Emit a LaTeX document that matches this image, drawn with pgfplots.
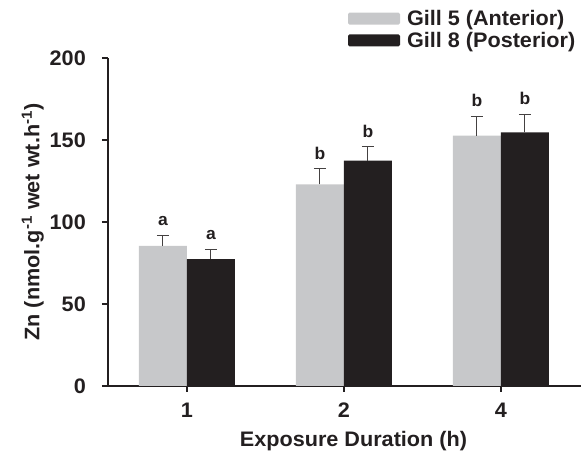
\documentclass[border=0pt]{standalone}
\usepackage{pgfplots}
\pgfplotsset{compat=1.18}
\usepackage{pgfplotstable}
\usepackage{fontspec}
\setmainfont{Liberation Sans}[FakeStretch=1.03]
\definecolor{lgray}{RGB}{199,200,202}
\definecolor{dblack}{RGB}{35,31,32}
\pgfplotsset{boxleg/.style={legend image code/.code={\fill[##1,rounded corners=1.5pt] (0pt,-6pt) rectangle (52pt,6pt);}}}
\pgfplotstableread{
x g5 g5e g8 g8e
0 85.5 6.5 77.4 6.0
1 123.0 9.5 137.4 8.5
2 152.6 12.0 154.7 11.0
}\datatab
\begin{document}
\begin{tikzpicture}
\begin{axis}[name=ax,
  scale only axis, width=473pt, height=328pt,
  xmin=-0.503, xmax=2.51, ymin=0, ymax=200,
  axis x line=bottom, axis y line=left,
  axis line style={-, line width=2.4pt, color=dblack},
  xtick={0,1,2}, xticklabels={1,2,4}, ytick={0,50,100,150,200},
  tick align=outside, major tick length=6pt,
  tick style={line width=2pt, color=dblack},
  /pgf/number format/assume math mode=true,
  tick label style={font=\bfseries\fontsize{21}{25}\selectfont, text=dblack},
  yticklabel style={anchor=east, inner sep=0pt, xshift=-16pt},
  xticklabel style={anchor=north, inner sep=0pt, yshift=-11pt},
  label style={font=\bfseries\fontsize{21}{25}\selectfont, text=dblack},
  xlabel={Exposure Duration (h)},
  ylabel={Zn (nmol.g\textsuperscript{-1} wet wt.h\textsuperscript{-1})},
  ylabel style={at={([xshift=-64pt]rel axis cs:0,0.5)}, anchor=south, inner sep=0pt},
  xlabel style={at={([xshift=9pt,yshift=-61pt]rel axis cs:0.5,0)}, anchor=base, inner sep=0pt},
  ybar=0pt, bar width=48pt,
  legend style={draw=none, fill=none, at={(0.507,1)}, anchor=north west, yshift=48pt,
    inner sep=0pt, row sep=5pt, font=\bfseries\fontsize{21}{25}\selectfont,
    nodes={inner sep=0pt, text=dblack}, /tikz/every odd column/.append style={column sep=7pt}},
  legend cell align=left,
  clip=false,
]
\addplot[boxleg, fill=lgray, draw=none,
  error bars/.cd, y dir=plus, y explicit,
  error bar style={line width=1pt, color=dblack!85},
  error mark options={rotate=90, mark size=6pt, line width=1pt, color=dblack!85}]
  table[x=x, y=g5, y error=g5e] {\datatab};
\addplot[boxleg, fill=dblack, draw=none,
  error bars/.cd, y dir=plus, y explicit,
  error bar style={line width=1pt, color=dblack!85},
  error mark options={rotate=90, mark size=6pt, line width=1pt, color=dblack!85}]
  table[x=x, y=g8, y error=g8e] {\datatab};
\legend{Gill 5 (Anterior), Gill 8 (Posterior)}
\begin{scope}[every node/.style={font=\bfseries\fontsize{17}{20}\selectfont, text=dblack, anchor=south, inner sep=0pt, yshift=9pt}]
\node[xshift=-24pt] at (axis cs:0,92.0) {a};
\node[xshift=24pt] at (axis cs:0,83.4) {a};
\node[xshift=-24pt] at (axis cs:1,132.5) {b};
\node[xshift=24pt] at (axis cs:1,145.9) {b};
\node[xshift=-24pt] at (axis cs:2,164.6) {b};
\node[xshift=24pt] at (axis cs:2,165.7) {b};
\end{scope}
\end{axis}
\pgfresetboundingbox
\path (ax.south west) ++(-108pt,-69pt) rectangle ++(582pt,455pt);
\end{tikzpicture}
\end{document}
